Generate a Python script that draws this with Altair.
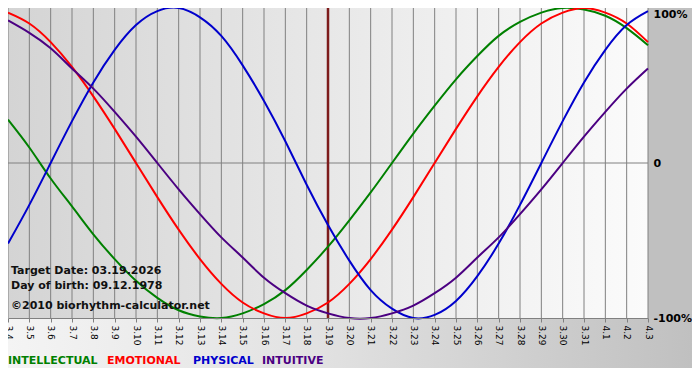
import altair as alt
import pandas as pd

days = ["3.4", "3.5", "3.6", "3.7", "3.8", "3.9", "3.10", "3.11", "3.12", "3.13",
        "3.14", "3.15", "3.16", "3.17", "3.18", "3.19", "3.20", "3.21", "3.22", "3.23",
        "3.24", "3.25", "3.26", "3.27", "3.28", "3.29", "3.30", "3.31", "4.1", "4.2", "4.3"]

intellectual = [28, 10, -10, -28, -46, -62, -76, -87, -95, -99,
                -100, -97, -91, -82, -69, -54, -37, -19, 0, 19,
                37, 54, 69, 82, 91, 97, 100, 99, 95, 87, 76]
emotional = [97, 90, 78, 62, 43, 22, 0, -22, -43, -62,
             -78, -90, -97, -100, -97, -90, -78, -62, -43, -22,
             0, 22, 43, 62, 78, 90, 97, 100, 97, 90, 78]
physical = [-52, -27, 0, 27, 52, 73, 89, 98, 100, 94,
            82, 63, 40, 14, -14, -40, -63, -82, -94, -100,
            -98, -89, -73, -52, -27, 0, 27, 52, 73, 89, 98]
intuitive = [92, 84, 74, 61, 48, 33, 17, 0, -17, -33,
             -48, -61, -74, -84, -92, -97, -100, -100, -97, -92,
             -84, -74, -61, -48, -33, -17, 0, 17, 33, 48, 61]

series_names = ["INTELLECTUAL", "EMOTIONAL", "PHYSICAL", "INTUITIVE"]
series_colors = ["#008000", "#ff0000", "#0000cc", "#4b0082"]
legend_x = [0, 99, 185, 254]
target_day = "3.19"
notes = ["Target Date: 03.19.2026", "Day of birth: 09.12.1978", "\u00a92010 biorhythm-calculator.net"]
notes_y = [263, 278, 298]
notes_size = [11, 11, 11]
y_ticks = [-100, 0, 100]

W, H = 640, 310
RP, BP = 44, 50
FONT = "DejaVu Sans"

rows = []
for name, vals in zip(series_names, [intellectual, emotional, physical, intuitive]):
    for d, v in zip(days, vals):
        rows.append({"day": d, "value": v, "series": name})
df = pd.DataFrame(rows)
days_df = pd.DataFrame({"day": days})

xscale = alt.Scale(type="point", domain=days, padding=0)
yscale = alt.Scale(domain=[-100, 100], nice=False, zero=False)

one = pd.DataFrame({"a": [0]})

bg = alt.Chart(one).mark_rect(
    fill=alt.Gradient(gradient="linear", x1=0, x2=1, y1=0, y2=0,
                      stops=[alt.GradientStop(color="#d4d4d4", offset=0),
                             alt.GradientStop(color="#e6e6e6", offset=0.45),
                             alt.GradientStop(color="#fbfbfb", offset=1)])
).encode(x=alt.value(0), x2=alt.value(W), y=alt.value(0), y2=alt.value(H))

bottom_bg = alt.Chart(one).mark_rect(
    clip=False,
    fill=alt.Gradient(gradient="linear", x1=0, x2=1, y1=0, y2=0,
                      stops=[alt.GradientStop(color="#f4f4f4", offset=0),
                             alt.GradientStop(color="#e2e2e2", offset=0.45),
                             alt.GradientStop(color="#c0c0c0", offset=1)])
).encode(x=alt.value(0), x2=alt.value(W + RP), y=alt.value(H), y2=alt.value(H + BP))

grid = alt.Chart(days_df).mark_rule(color="#808080", strokeWidth=1).encode(
    x=alt.X("day:N", scale=xscale, sort=None,
            axis=alt.Axis(title=None, orient="bottom", labelAngle=90, labelAlign="left",
                          labelBaseline="middle", labelFont=FONT, labelFontSize=9,
                          labelColor="#000000", labelPadding=3, labelOverlap=False,
                          tickSize=4, tickColor="#808080", domainColor="#808080",
                          grid=False, zindex=1))
)

zero = alt.Chart(pd.DataFrame({"v": [0]})).mark_rule(color="#808080", strokeWidth=1).encode(
    y=alt.Y("v:Q", scale=yscale)
)

target = alt.Chart(pd.DataFrame({"day": [target_day]})).mark_rule(
    color="#7d1c1c", strokeWidth=2.5
).encode(x=alt.X("day:N", scale=xscale, sort=None))

lines = alt.Chart(df).mark_line(interpolate="natural", strokeWidth=2).encode(
    x=alt.X("day:N", scale=xscale, sort=None),
    y=alt.Y("value:Q", scale=yscale,
            axis=alt.Axis(title=None, orient="right", values=y_ticks,
                          labelExpr="datum.value == 0 ? '0' : datum.value + '%'",
                          labelFont=FONT, labelFontSize=11, labelFontWeight="bold",
                          labelColor="#000000", labelPadding=5, labelAlign="left",
                          labelBaseline={"condition": {"test": "datum.value >= 100", "value": "top"},
                                         "value": "middle"},
                          domain=False, ticks=False, grid=False, zindex=1)),
    color=alt.Color("series:N", scale=alt.Scale(domain=series_names, range=series_colors),
                    legend=None),
    detail="series:N",
)

layers = [bg, bottom_bg, grid, zero, target, lines]

for txt, yy, fs in zip(notes, notes_y, notes_size):
    layers.append(
        alt.Chart(one).mark_text(text=txt, align="left", baseline="middle", font=FONT,
                                 fontSize=fs, fontWeight="bold", color="#111111")
        .encode(x=alt.value(3), y=alt.value(yy))
    )

for name, col, lx in zip(series_names, series_colors, legend_x):
    layers.append(
        alt.Chart(one).mark_text(text=name, align="left", baseline="middle", font=FONT,
                                 fontSize=11, fontWeight="bold", color=col, clip=False)
        .encode(x=alt.value(lx), y=alt.value(H + 43))
    )

chart = alt.layer(*layers).properties(
    width=W, height=H, background="#c0c0c0",
    padding={"left": 0, "top": 0, "right": RP, "bottom": BP},
    autosize=alt.AutoSizeParams(type="none"),
).configure_view(strokeWidth=0)

chart.save("out.html", embed_options={"renderer": "svg", "actions": False})
